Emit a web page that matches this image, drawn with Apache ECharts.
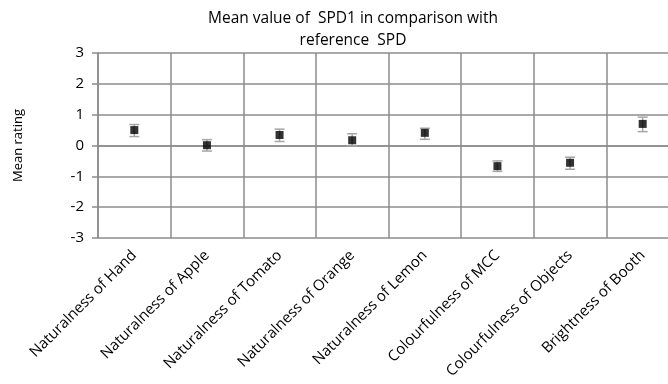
<!DOCTYPE html>
<html><head><meta charset="utf-8">
<script src="https://cdn.jsdelivr.net/npm/echarts@6/dist/echarts.min.js"></script>
<style>html,body{margin:0;padding:0;background:#fff}#c{width:668px;height:384px}</style>
</head><body><div id="c"></div>
<script>
const categories = ["Naturalness of Hand","Naturalness of Apple","Naturalness of Tomato","Naturalness of Orange","Naturalness of Lemon","Colourfulness of MCC","Colourfulness of Objects","Brightness of Booth"];
const meanValues = [0.50, 0.01, 0.34, 0.17, 0.41, -0.67, -0.56, 0.70];
const upperValues = [0.68, 0.19, 0.53, 0.38, 0.56, -0.50, -0.38, 0.92];
const lowerValues = [0.29, -0.18, 0.13, -0.02, 0.20, -0.84, -0.77, 0.45];
const yTicks = [-3, -2, -1, 0, 1, 2, 3];

const FONT = 'Open Sans';
const chart = echarts.init(document.getElementById('c'), null, {renderer: 'canvas'});
const errData = categories.map((c, i) => [i, lowerValues[i], upperValues[i]]);
chart.setOption({
  animation: false,
  title: {
    text: 'Mean value of  SPD1 in comparison with\nreference  SPD',
    left: 348, top: 3, textAlign: 'center',
    textStyle: {fontFamily: FONT, fontSize: 15.5, fontWeight: 'normal', color: '#000', lineHeight: 22}
  },
  grid: {left: 98, width: 581, top: 53, bottom: 146, containLabel: false, outerBoundsMode: 'none'},
  xAxis: {
    type: 'category', data: categories, boundaryGap: true,
    axisLine: {lineStyle: {color: '#8c8c8c', width: 1.5}},
    axisTick: {show: false},
    splitLine: {show: true, interval: 0, lineStyle: {color: '#8c8c8c', width: 1.5}},
    axisLabel: {interval: 0, rotate: 45, margin: 15, fontFamily: FONT, fontSize: 15, color: '#000'}
  },
  yAxis: {
    type: 'value', min: -3, max: 3, interval: 1,
    name: 'Mean rating', nameLocation: 'middle', nameGap: 73, nameRotate: 90,
    nameTextStyle: {fontFamily: FONT, fontSize: 13, color: '#000'},
    axisLine: {show: true, lineStyle: {color: '#8c8c8c', width: 1.5}},
    axisTick: {show: true, length: 6, lineStyle: {color: '#8c8c8c', width: 1.5}},
    splitLine: {show: true, lineStyle: {color: '#8c8c8c', width: 1.5}},
    axisLabel: {margin: 14, fontFamily: FONT, fontSize: 15, color: '#000',
      formatter: v => yTicks.includes(v) ? String(v) : ''}
  },
  series: [
    {
      type: 'custom', data: errData, z: 3,
      renderItem: (params, api) => {
        const x = api.value(0);
        const lo = api.coord([x, api.value(1)]);
        const hi = api.coord([x, api.value(2)]);
        const hw = 5;
        const st = {stroke: '#a6a6a6', lineWidth: 1.5};
        return {type: 'group', children: [
          {type: 'line', shape: {x1: lo[0], y1: lo[1], x2: hi[0], y2: hi[1]}, style: st},
          {type: 'line', shape: {x1: lo[0]-hw, y1: lo[1], x2: lo[0]+hw, y2: lo[1]}, style: st},
          {type: 'line', shape: {x1: hi[0]-hw, y1: hi[1], x2: hi[0]+hw, y2: hi[1]}, style: st}
        ]};
      }
    },
    {
      type: 'scatter', data: meanValues, symbol: 'rect', symbolSize: 8, z: 4,
      itemStyle: {color: '#000'}
    }
  ]
});
</script></body></html>
